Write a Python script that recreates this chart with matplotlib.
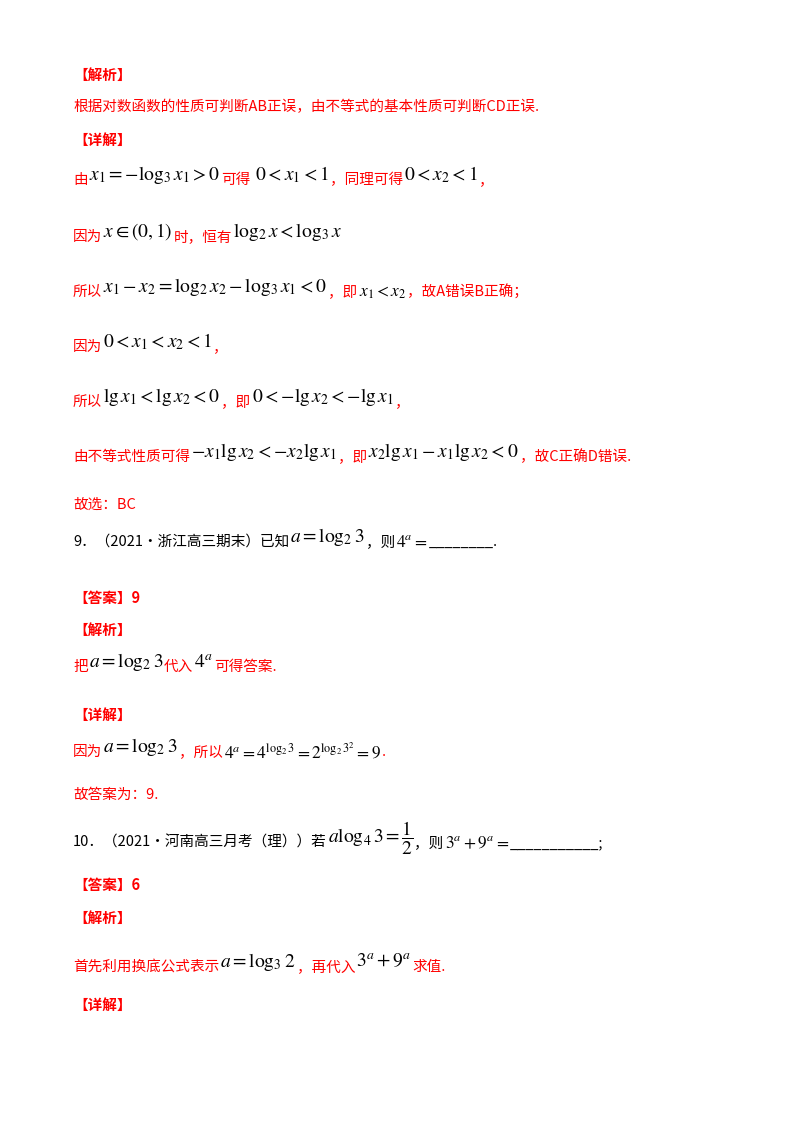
import matplotlib
matplotlib.use("Agg")
import matplotlib.pyplot as plt

plt.rcParams['font.family'] = ['Noto Sans CJK SC', 'DejaVu Sans']
plt.rcParams['mathtext.fontset'] = 'stix'

R = '#ff0000'
K = '#000000'

# each line: (y in px from top, [(text, color, kind)]) ; kind 'h' heading, 't' text, 'm' math
line_y = [75, 107, 140, 180, 237, 292, 347, 402, 457, 505, 542, 598, 630, 667, 715, 752, 795, 843, 885, 918, 967, 1005]
line_parts = [
    [("【解析】", R, 'h')],
    [("根据对数函数的性质可判断AB正误，由不等式的基本性质可判断CD正误.", R, 't')],
    [("【详解】", R, 'h')],
    [("由", R, 't'), (r"$x_1=-\log_3 x_1>0$", K, 'm'), ("可得", R, 't'), (r" $0<x_1<1$", K, 'm'),
     ("，同理可得", R, 't'), (r"$0<x_2<1$", K, 'm'), ("，", R, 't')],
    [("因为", R, 't'), (r"$x\in(0,1)$", K, 'm'), ("时，恒有", R, 't'), (r"$\log_2 x<\log_3 x$", K, 'm')],
    [("所以", R, 't'), (r"$x_1-x_2=\log_2 x_2-\log_3 x_1<0$", K, 'm'), ("，即", R, 't'),
     (r"$x_1<x_2$", K, 's'), ("，故A错误B正确；", R, 't')],
    [("因为", R, 't'), (r"$0<x_1<x_2<1$", K, 'm'), ("，", R, 't')],
    [("所以", R, 't'), (r"$\lg x_1<\lg x_2<0$", K, 'm'), ("，即", R, 't'),
     (r"$0<-\lg x_2<-\lg x_1$", K, 'm'), ("，", R, 't')],
    [("由不等式性质可得", R, 't'), (r"$-x_1\lg x_2<-x_2\lg x_1$", K, 'm'), ("，即", R, 't'),
     (r"$x_2\lg x_1-x_1\lg x_2<0$", K, 'm'), ("，故C正确D错误.", R, 't')],
    [("故选：BC", R, 't')],
    [("9．（2021·浙江高三期末）已知", K, 't'), (r"$a=\log_2 3$", K, 'm'), ("，则", K, 't'),
     (r"$4^a=$", K, 's'), ("________.", K, 't')],
    [("【答案】9", R, 'h')],
    [("【解析】", R, 'h')],
    [("把", R, 't'), (r"$a=\log_2 3$", K, 'm'), ("代入", R, 't'), (r"$4^a$", K, 'm'), ("可得答案.", R, 't')],
    [("【详解】", R, 'h')],
    [("因为", R, 't'), (r"$a=\log_2 3$", K, 'm'), ("，所以", R, 't'),
     (r"$4^a=4^{\log_2 3}=2^{\log_2 3^2}=9$", K, 's'), (".", R, 't')],
    [("故答案为：9.", R, 't')],
    [("10．（2021·河南高三月考（理））若", K, 't'), (r"$a\log_4 3=\dfrac{1}{2}$", K, 'm'),
     ("，则", K, 't'), (r"$3^a+9^a=$", K, 's'), ("___________;", K, 't')],
    [("【答案】6", R, 'h')],
    [("【解析】", R, 'h')],
    [("首先利用换底公式表示", R, 't'), (r"$a=\log_3 2$", K, 'm'), ("，再代入", R, 't'),
     (r"$3^a+9^a$", K, 'm'), ("求值.", R, 't')],
    [("【详解】", R, 'h')],
]

fig = plt.figure(figsize=(8, 11.32), dpi=100)
fig.patch.set_facecolor('white')
renderer = fig.canvas.get_renderer()
H = 1132

for y, parts in zip(line_y, line_parts):
    x = 73
    for s, c, kind in parts:
        if kind == 'm':
            size, dy, w = 14, -5, 'normal'
        elif kind == 's':
            size, dy, w = 12.5, 0, 'normal'
        else:
            size, dy, w = 10.5, 0, 'bold' if kind == 'h' else 'normal'
        t = fig.text(x / 800, 1 - (y + dy) / H, s, color=c, fontsize=size,
                     fontweight=w, va='center', ha='left')
        x += t.get_window_extent(renderer).width + 1

fig.savefig("out.png", dpi=100)
